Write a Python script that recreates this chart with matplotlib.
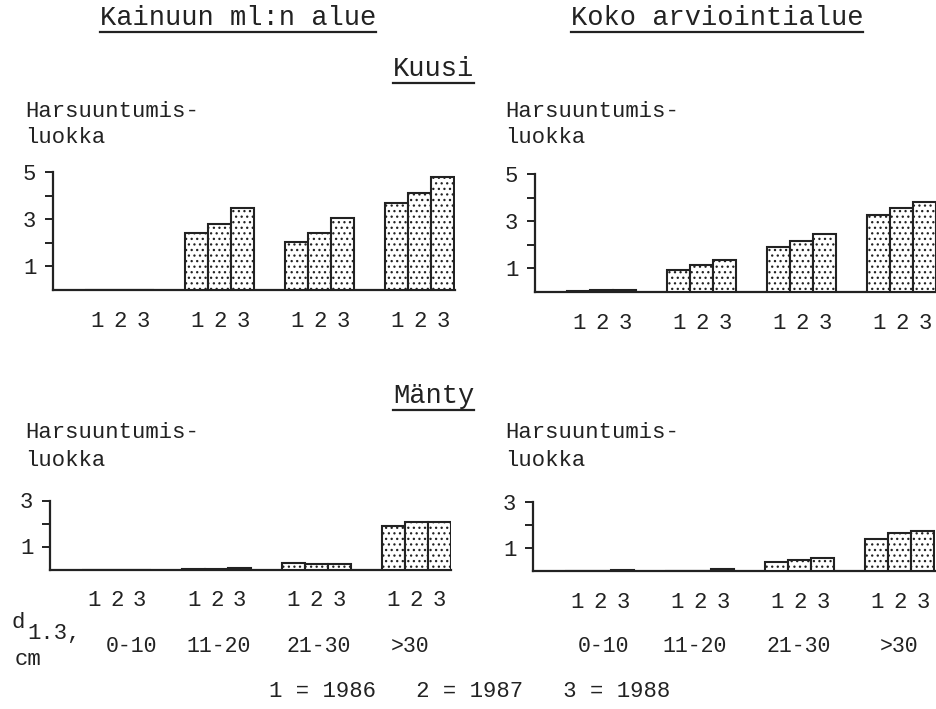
import matplotlib
matplotlib.use("Agg")
import matplotlib.pyplot as plt
import matplotlib.transforms as mtransforms
from matplotlib.lines import Line2D

plt.rcParams['font.family'] = ['Liberation Mono', 'DejaVu Sans Mono']
plt.rcParams['hatch.linewidth'] = 0.9
plt.rcParams['hatch.color'] = '#444444'

INK = '#222222'

# ---- data ----
classes = ['0-10', '11-20', '21-30', '>30']
years = ['1', '2', '3']
legend_text = '1 = 1986   2 = 1987   3 = 1988'

# values per diameter class, for years 1986, 1987, 1988
kainuu_kuusi_1986 = [0.0, 2.42, 2.05, 3.68]
kainuu_kuusi_1987 = [0.0, 2.81, 2.43, 4.12]
kainuu_kuusi_1988 = [0.0, 3.47, 3.03, 4.78]

koko_kuusi_1986 = [0.05, 0.95, 1.90, 3.27]
koko_kuusi_1987 = [0.10, 1.15, 2.18, 3.57]
koko_kuusi_1988 = [0.10, 1.35, 2.46, 3.83]

kainuu_manty_1986 = [0.0, 0.02, 0.30, 1.88]
kainuu_manty_1987 = [0.0, 0.02, 0.22, 2.07]
kainuu_manty_1988 = [0.0, 0.08, 0.22, 2.07]

koko_manty_1986 = [0.0, 0.02, 0.39, 1.41]
koko_manty_1987 = [0.0, 0.02, 0.46, 1.65]
koko_manty_1988 = [0.06, 0.08, 0.58, 1.74]

W, H = 937, 709
fig = plt.figure(figsize=(W / 100, H / 100), dpi=100)
fig.patch.set_facecolor('white')


def rect(l, r, base, top):
    return [l / W, 1 - base / H, (r - l) / W, (base - top) / H]


def fy(y):
    return 1 - y / H


def panel(r, series, ymax, yticks, ylabels):
    ax = fig.add_axes(r)
    bw = 0.23
    xs_all, labs = [], []
    for j, vals in enumerate(series):
        xs = [i + (j - 1) * bw for i in range(len(classes))]
        ax.bar(xs, vals, width=bw, facecolor='white', edgecolor=INK,
               linewidth=1.5, hatch='...', zorder=3)
        xs_all += xs
        labs += [years[j]] * len(classes)
    ax.set_xlim(-0.67, 3.35)
    ax.set_ylim(0, ymax)
    ax.set_xticks(xs_all)
    ax.set_xticklabels(labs)
    ax.tick_params(axis='x', length=0, pad=15, labelsize=16, colors=INK)
    ax.set_yticks(yticks)
    ax.set_yticklabels(ylabels)
    ax.tick_params(axis='y', direction='out', length=6, width=1.4, pad=6,
                   labelsize=16, colors=INK)
    for s in ['top', 'right']:
        ax.spines[s].set_visible(False)
    for s in ['left', 'bottom']:
        ax.spines[s].set_linewidth(1.6)
        ax.spines[s].set_color(INK)
    ax.patch.set_alpha(0)
    return ax


ax_tl = panel(rect(53, 455, 290, 172),
              [kainuu_kuusi_1986, kainuu_kuusi_1987, kainuu_kuusi_1988],
              5, [1, 2, 3, 4, 5], ['1', '', '3', '', '5'])
ax_tr = panel(rect(535, 937, 292, 174),
              [koko_kuusi_1986, koko_kuusi_1987, koko_kuusi_1988],
              5, [1, 2, 3, 4, 5], ['1', '', '3', '', '5'])
ax_bl = panel(rect(50, 451, 569.5, 500.5),
              [kainuu_manty_1986, kainuu_manty_1987, kainuu_manty_1988],
              3, [1, 2, 3], ['1', '', '3'])
ax_br = panel(rect(533, 935, 571, 502),
              [koko_manty_1986, koko_manty_1987, koko_manty_1988],
              3, [1, 2, 3], ['1', '', '3'])

# titles
titles = []
titles.append(fig.text(100 / W, fy(25), 'Kainuun ml:n alue', fontsize=19.5,
                       color=INK, ha='left', va='baseline'))
titles.append(fig.text(571 / W, fy(25), 'Koko arviointialue', fontsize=19.5,
                       color=INK, ha='left', va='baseline'))
titles.append(fig.text(393 / W, fy(76), 'Kuusi', fontsize=19.5,
                       color=INK, ha='left', va='baseline'))
titles.append(fig.text(393 / W, fy(403), 'Mänty', fontsize=19.5,
                       color=INK, ha='left', va='baseline'))

# y labels
for x, y1, y2 in [(25, 117, 143), (505, 117, 143), (25, 438, 466), (505, 438, 466)]:
    fig.text(x / W, fy(y1), 'Harsuuntumis-', fontsize=16, color=INK,
             ha='left', va='baseline')
    fig.text(x / W, fy(y2), 'luokka', fontsize=16, color=INK,
             ha='left', va='baseline')

# diameter class labels
for ax, nudge in [(ax_bl, [0.15, 0.02, 0.02, -0.06]), (ax_br, [0.04, -0.05, -0.01, -0.01])]:
    tr = mtransforms.blended_transform_factory(ax.transData, fig.transFigure)
    for i, c in enumerate(classes):
        ax.text(i + nudge[i], fy(652), c, transform=tr, fontsize=15.5,
                color=INK, ha='center', va='baseline')

fig.text(12 / W, fy(628), 'd', fontsize=16, color=INK, ha='left', va='baseline')
fig.text(27 / W, fy(639), '1.3,', fontsize=16, color=INK, ha='left', va='baseline')
fig.text(15 / W, fy(665), 'cm', fontsize=16, color=INK, ha='left', va='baseline')

fig.text(470 / W, fy(697), legend_text, fontsize=16, color=INK,
         ha='center', va='baseline')

# underline titles
fig.canvas.draw()
renderer = fig.canvas.get_renderer()
for t in titles:
    bb = t.get_window_extent(renderer)
    y = bb.y0 - 0.5
    fig.add_artist(Line2D([bb.x0 / W, bb.x1 / W], [y / H, y / H],
                          transform=fig.transFigure, color=INK, linewidth=1.6))

fig.savefig('out.png', dpi=100, facecolor='white')
